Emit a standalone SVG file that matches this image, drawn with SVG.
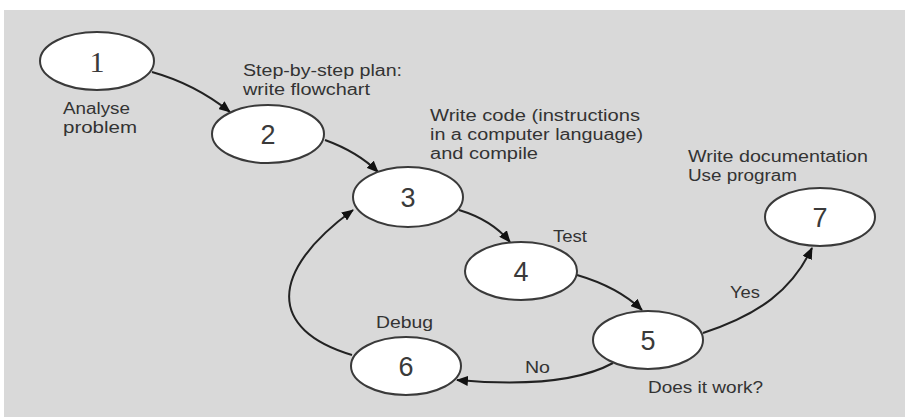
<svg xmlns="http://www.w3.org/2000/svg" width="905" height="417" viewBox="0 0 905 417">
<style>
.bg{fill:#d9d9d9}
.node ellipse{fill:#ffffff;stroke:#3a3a3a;stroke-width:2}
.num{font-family:"Liberation Sans",Arial,sans-serif;font-size:27px;fill:#3a3a3a;text-anchor:middle}
.serif{font-family:"Liberation Serif","Times New Roman",serif;font-size:30px}
.lbl{font-family:"Liberation Sans",Arial,sans-serif;font-size:16px;fill:#333}
.conn path{fill:none;stroke:#222;stroke-width:2;marker-end:url(#ah)}
</style>
<defs>
<marker id="ah" viewBox="0 0 12 10" refX="11" refY="5" markerWidth="12" markerHeight="10" markerUnits="userSpaceOnUse" orient="auto">
<path d="M0,0 L12,5 L0,10 z" fill="#111"/>
</marker>
</defs>
<rect x="0" y="0" width="905" height="417" fill="#ffffff"/>
<rect class="bg" x="4" y="10" width="901" height="407"/>

<g class="conn">
<path d="M152,72 Q195,84 230,112"/>
<path d="M325,140 Q358,152 378,172"/>
<path d="M459,210 Q492,220 510,242"/>
<path d="M577,275 Q618,287 642,310"/>
<path d="M703,333 C760,314 792,290 812,248"/>
<path d="M613,363 C580,381 525,386 457,380"/>
<path d="M352,355 C268,330 268,272 353,210"/>
</g>

<g id="node1" class="node"><ellipse cx="97" cy="61" rx="57" ry="29"/><text class="num serif" x="97" y="72">1</text></g>
<g id="node2" class="node"><ellipse cx="268" cy="134" rx="56" ry="29"/><text class="num" x="268" y="144">2</text></g>
<g id="node3" class="node"><ellipse cx="408" cy="197" rx="55" ry="30"/><text class="num" x="408" y="207">3</text></g>
<g id="node4" class="node"><ellipse cx="521" cy="271" rx="56" ry="29"/><text class="num" x="521" y="281">4</text></g>
<g id="node5" class="node"><ellipse cx="648" cy="340" rx="55" ry="29"/><text class="num" x="648" y="350">5</text></g>
<g id="node6" class="node"><ellipse cx="406" cy="366" rx="55" ry="29"/><text class="num" x="406" y="376">6</text></g>
<g id="node7" class="node"><ellipse cx="820" cy="217" rx="55" ry="29"/><text class="num" x="820" y="227">7</text></g>

<g id="labels">
<text class="lbl" x="63" y="114" textLength="67" lengthAdjust="spacingAndGlyphs">Analyse</text>
<text class="lbl" x="63" y="133" textLength="74" lengthAdjust="spacingAndGlyphs">problem</text>
<text class="lbl" x="243" y="76" textLength="159" lengthAdjust="spacingAndGlyphs">Step-by-step plan:</text>
<text class="lbl" x="243" y="95" textLength="127" lengthAdjust="spacingAndGlyphs">write flowchart</text>
<text class="lbl" x="430" y="121" textLength="210" lengthAdjust="spacingAndGlyphs">Write code (instructions</text>
<text class="lbl" x="430" y="140" textLength="213" lengthAdjust="spacingAndGlyphs">in a computer language)</text>
<text class="lbl" x="430" y="159" textLength="108" lengthAdjust="spacingAndGlyphs">and compile</text>
<text class="lbl" x="688" y="162" textLength="180" lengthAdjust="spacingAndGlyphs">Write documentation</text>
<text class="lbl" x="688" y="181" textLength="109" lengthAdjust="spacingAndGlyphs">Use program</text>
<text class="lbl" x="553" y="242" textLength="34" lengthAdjust="spacingAndGlyphs">Test</text>
<text class="lbl" x="730" y="298" textLength="30" lengthAdjust="spacingAndGlyphs">Yes</text>
<text class="lbl" x="525" y="373" textLength="25" lengthAdjust="spacingAndGlyphs">No</text>
<text class="lbl" x="648" y="393" textLength="115" lengthAdjust="spacingAndGlyphs">Does it work?</text>
<text class="lbl" x="376" y="328" textLength="57" lengthAdjust="spacingAndGlyphs">Debug</text>
</g>
</svg>
